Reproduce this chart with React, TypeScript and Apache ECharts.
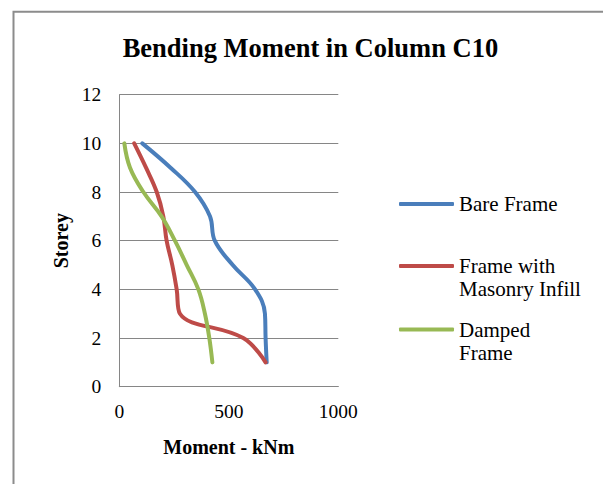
import React, { useEffect, useRef } from "react";
import * as echarts from "echarts";

const storeys = [10, 9, 8, 7, 6, 5, 4, 3, 2, 1];
const bareFrame = [105, 234, 346, 414, 436, 518, 620, 665, 668, 673];
const masonryInfill = [68, 122, 171, 201, 216, 242, 262, 277, 566, 668];
const dampedFrame = [23, 49, 110, 193, 254, 308, 361, 391, 411, 425];
const seriesNames = ["Bare Frame", "Frame with\nMasonry Infill", "Damped\nFrame"];
const xTicks = { min: 0, max: 1000, interval: 500 };
const yTicks = { min: 0, max: 12, interval: 2 };

const FONT = '"Liberation Serif", "Times New Roman", serif';
const colors = ["#4A7EBB", "#BE4B48", "#98B954"];

export default function App() {
  const ref = useRef<HTMLDivElement>(null);
  useEffect(() => {
    if (!ref.current) return;
    const chart = echarts.init(ref.current, null, { renderer: "svg" });
    const pairs = (vals: number[]) => vals.map((v, i) => [v, storeys[i]]);
    const allVals = [bareFrame, masonryInfill, dampedFrame];
    const legendTops = [192.5, 231.5, 295];
    chart.setOption({
      animation: false,
      backgroundColor: "#ffffff",
      graphic: [
        {
          type: "rect",
          shape: { x: 13.5, y: 11.7, width: 700, height: 600 },
          style: { fill: "none", stroke: "#8c8c8c", lineWidth: 2 },
          silent: true,
        },
        {
          type: "text",
          x: 310.4,
          y: 47.5,
          style: {
            text: "Bending Moment in Column C10",
            font: `bold 26.5px ${FONT}`,
            align: "center",
            verticalAlign: "middle",
            fill: "#000000",
          },
        },
      ],
      grid: { left: 119.3, top: 94.7, width: 219, height: 292, containLabel: false },
      xAxis: {
        type: "value",
        min: xTicks.min,
        max: xTicks.max,
        interval: xTicks.interval,
        name: "Moment - kNm",
        nameLocation: "middle",
        nameGap: 50,
        nameTextStyle: { fontFamily: FONT, fontWeight: "bold", fontSize: 20, color: "#000" },
        axisLine: { show: true, lineStyle: { color: "#868686", width: 1 } },
        axisTick: { show: false },
        splitLine: { show: false },
        axisLabel: {
          fontFamily: FONT,
          fontSize: 19.5,
          color: "#000",
          margin: 15,
          formatter: (v: number) => String(v),
        },
      },
      yAxis: {
        type: "value",
        min: yTicks.min,
        max: yTicks.max,
        interval: yTicks.interval,
        name: "Storey",
        nameLocation: "middle",
        nameGap: 48,
        nameTextStyle: { fontFamily: FONT, fontWeight: "bold", fontSize: 20, color: "#000" },
        axisLine: { show: true, lineStyle: { color: "#868686", width: 1 } },
        axisTick: { show: false },
        splitLine: { show: true, lineStyle: { color: "#868686", width: 1 } },
        axisLabel: { fontFamily: FONT, fontSize: 19.5, color: "#000", margin: 18 },
      },
      legend: seriesNames.map((n, i) => ({
        data: [n],
        left: 399,
        top: legendTops[i],
        padding: 0,
        itemWidth: 55,
        itemHeight: 4,
        icon: "roundRect",
        selectedMode: false,
        formatter: (name: string) => (i === 0 ? name : "\n" + name),
        textStyle: {
          fontFamily: FONT,
          fontSize: 21,
          color: "#000",
          lineHeight: 23,
        },
      })),
      series: seriesNames.map((n, i) => ({
        name: n,
        type: "line",
        data: pairs(allVals[i]),
        smooth: 0.4,
        showSymbol: false,
        symbol: "none",
        color: colors[i],
        lineStyle: { width: 4, color: colors[i], cap: "round", join: "round" },
        itemStyle: { color: colors[i] },
      })),
    });
    return () => chart.dispose();
  }, []);
  return (
    <div
      ref={ref}
      style={{ position: "fixed", left: 0, top: 0, width: 603, height: 484, background: "#fff" }}
    />
  );
}
